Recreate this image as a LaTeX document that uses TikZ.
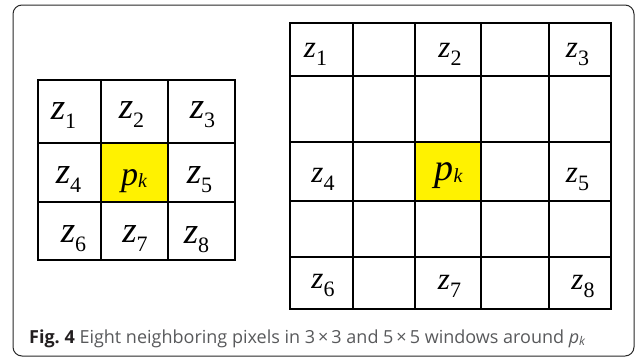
\documentclass[tikz,border=0pt]{standalone}
\usepackage{fontspec}
\setmainfont{Liberation Serif}
\newfontfamily\labfont{Liberation Serif}
\newfontfamily\capfont{Open Sans}
\definecolor{capgray}{RGB}{88,89,91}
\definecolor{capdark}{RGB}{35,31,32}
\definecolor{framegray}{RGB}{40,40,40}

% pixel labels: z with upright index, p with italic k
\newcommand{\zl}[1]{\labfont{\fontsize{37}{37}\selectfont\itshape z}\raisebox{-9pt}{\fontsize{22}{22}\selectfont #1}}
\newcommand{\zr}[1]{\labfont{\fontsize{31}{31}\selectfont\itshape z}\raisebox{-8pt}{\fontsize{22}{22}\selectfont #1}}
\newcommand{\pk}[1]{\labfont{\fontsize{#1}{#1}\selectfont\itshape p}\raisebox{-2pt}{\fontsize{20}{20}\selectfont\itshape k}}

\begin{document}
\begin{tikzpicture}[x=1pt,y=-1pt,
  gridline/.style={line width=1.8pt,line cap=rect},
  lab/.style={anchor=base,inner sep=0pt}]
\useasboundingbox (0,0) rectangle (637,357);
\draw[framegray,line width=1pt,rounded corners=9pt] (13,5) rectangle (634,356);

% 3x3 window
\fill[yellow] (101,143) rectangle (168,202);
\foreach \x in {38,101,168,235} \draw[gridline] (\x,80) -- (\x,260);
\foreach \y in {80,143,202,260} \draw[gridline] (38,\y) -- (235,\y);
\foreach \n/\x/\y in {1/63.5/119, 2/131.5/118, 3/202.5/118, 4/68.5/183,
                      5/199.5/183, 6/73.5/242, 7/135/242, 8/196.5/243}
  \node[lab] (l\n) at (\x,\y) {\zl{\n}};
\node[lab] (lp) at (134,185) {\pk{34}};

% 5x5 window
\fill[yellow] (415,142) rectangle (481,201);
\foreach \x in {290,353,415,481,549,611} \draw[gridline] (\x,23) -- (\x,309);
\foreach \y in {23,76,142,201,257,309} \draw[gridline] (290,\y) -- (611,\y);
\foreach \n/\x/\y in {1/315.5/57, 2/450/57, 3/577.5/57, 4/323/182,
                      5/577.5/182, 6/323/288, 7/449.5/289, 8/583/289}
  \node[lab] (r\n) at (\x,\y) {\zr{\n}};
\node[lab] (rp) at (448.5,180) {\pk{38}};

\node[anchor=base west,inner sep=0pt] (cap) at (29,343)
  {\capfont\fontsize{18}{18}\selectfont{\bfseries\color{capdark}Fig.~4}
   \color{capgray}Eight neighboring pixels in 3\,×\,3 and 5\,×\,5 windows around
   \textit{p}\raisebox{-2pt}{\fontsize{12}{12}\selectfont\textit{k}}};
\end{tikzpicture}
\end{document}
